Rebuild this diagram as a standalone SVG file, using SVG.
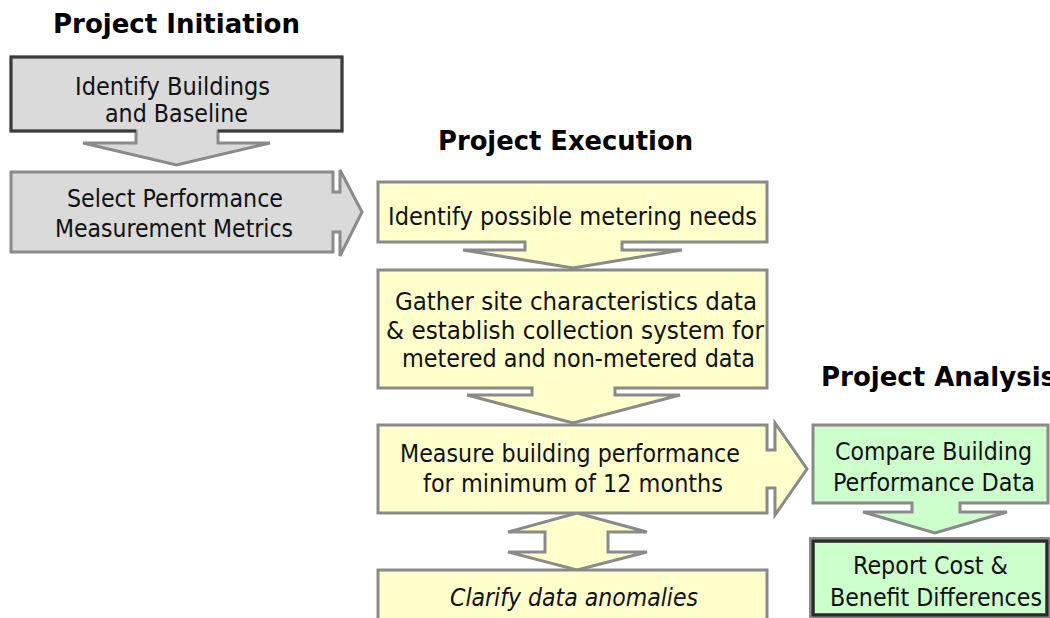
<svg xmlns="http://www.w3.org/2000/svg" width="1050" height="618" viewBox="0 0 1050 618">
<style>
.title{font-family:"DejaVu Sans","Verdana",sans-serif;font-weight:bold;font-size:26px;fill:#000}
.t{font-family:"DejaVu Sans Condensed","DejaVu Sans",sans-serif;font-size:25.5px;fill:#111}
.it{font-style:italic}
.gray{fill:#dadada;stroke:#8a8a8a;stroke-width:3;stroke-linejoin:miter}
.yel{fill:#ffffcc;stroke:#8a8a8a;stroke-width:3;stroke-linejoin:miter}
.grn{fill:#ccffcc;stroke:#8a8a8a;stroke-width:3;stroke-linejoin:miter}
.dark{fill:none;stroke:#3c3c3c;stroke-width:3}
</style>
<rect width="1050" height="618" fill="#fff"/>

<g id="titles">
<text class="title" x="53" y="33" textLength="247" lengthAdjust="spacingAndGlyphs">Project Initiation</text>
<text class="title" x="438" y="150" textLength="255" lengthAdjust="spacingAndGlyphs">Project Execution</text>
<text class="title" x="821" y="386">Project Analysis</text>
</g>

<g id="connectors">
<path class="yel" d="M577,513 L647,532 L608,532 L608,552 L647,552 L577,570 L508,552 L545,552 L545,532 L508,532 Z"/>
</g>

<g id="identify-buildings">
<path class="gray" d="M11,57 H342 V131 H218 V143 H270 L176.5,165 L83,143 H136 V131 H11 Z"/>
<path class="dark" d="M136,131 H11 V57 H342 V131 H218"/>
<text class="t" x="75" y="95" textLength="195" lengthAdjust="spacingAndGlyphs">Identify Buildings</text>
<text class="t" x="105" y="122" textLength="143" lengthAdjust="spacingAndGlyphs">and Baseline</text>
</g>

<g id="select-metrics">
<path class="gray" d="M11,172 H333 V192 H340 V170 L362,212 L340,256 V232 H333 V252 H11 Z"/>
<text class="t" x="67" y="207" textLength="216" lengthAdjust="spacingAndGlyphs">Select Performance</text>
<text class="t" x="55" y="237" textLength="238" lengthAdjust="spacingAndGlyphs">Measurement Metrics</text>
</g>

<g id="metering-needs">
<path class="yel" d="M378,182 H767 V242 H622 V250 H682 L573,268 L463,250 H525 V242 H378 Z"/>
<text class="t" x="388" y="225" textLength="369" lengthAdjust="spacingAndGlyphs">Identify possible metering needs</text>
</g>

<g id="gather-data">
<path class="yel" d="M378,270 H767 V388 H615 V395 H680 L573,423 L467,395 H532 V388 H378 Z"/>
<text class="t" x="395" y="310" textLength="362" lengthAdjust="spacingAndGlyphs">Gather site characteristics data</text>
<text class="t" x="386" y="339" textLength="378" lengthAdjust="spacingAndGlyphs">&amp; establish collection system for</text>
<text class="t" x="402" y="367" textLength="353" lengthAdjust="spacingAndGlyphs">metered and non-metered data</text>
</g>

<g id="measure-performance">
<path class="yel" d="M378,425 H767 V450 H775 V423 L807,469 L775,515 V488 H767 V513 H378 Z"/>
<text class="t" x="400" y="462" textLength="340" lengthAdjust="spacingAndGlyphs">Measure building performance</text>
<text class="t" x="423" y="492" textLength="300" lengthAdjust="spacingAndGlyphs">for minimum of 12 months</text>
</g>

<g id="clarify-anomalies">
<rect class="yel" x="378" y="570" width="389" height="70"/>
<text class="t it" x="450" y="606" textLength="248" lengthAdjust="spacingAndGlyphs">Clarify data anomalies</text>
</g>

<g id="compare-data">
<path class="grn" d="M813,425 H1048 V503 H960 V512 H1007 L935,533 L863,512 H912 V503 H813 Z"/>
<text class="t" x="835" y="460" textLength="197" lengthAdjust="spacingAndGlyphs">Compare Building</text>
<text class="t" x="833" y="491" textLength="202" lengthAdjust="spacingAndGlyphs">Performance Data</text>
</g>

<g id="report-differences">
<rect x="812" y="540" width="236" height="76" fill="#ccffcc" stroke="#8a8a8a" stroke-width="6"/>
<rect x="813" y="541" width="234" height="74" fill="none" stroke="#2a2a2a" stroke-width="3"/>
<text class="t" x="853" y="574" textLength="155" lengthAdjust="spacingAndGlyphs">Report Cost &amp;</text>
<text class="t" x="830" y="606" textLength="212" lengthAdjust="spacingAndGlyphs">Benefit Differences</text>
</g>
</svg>
